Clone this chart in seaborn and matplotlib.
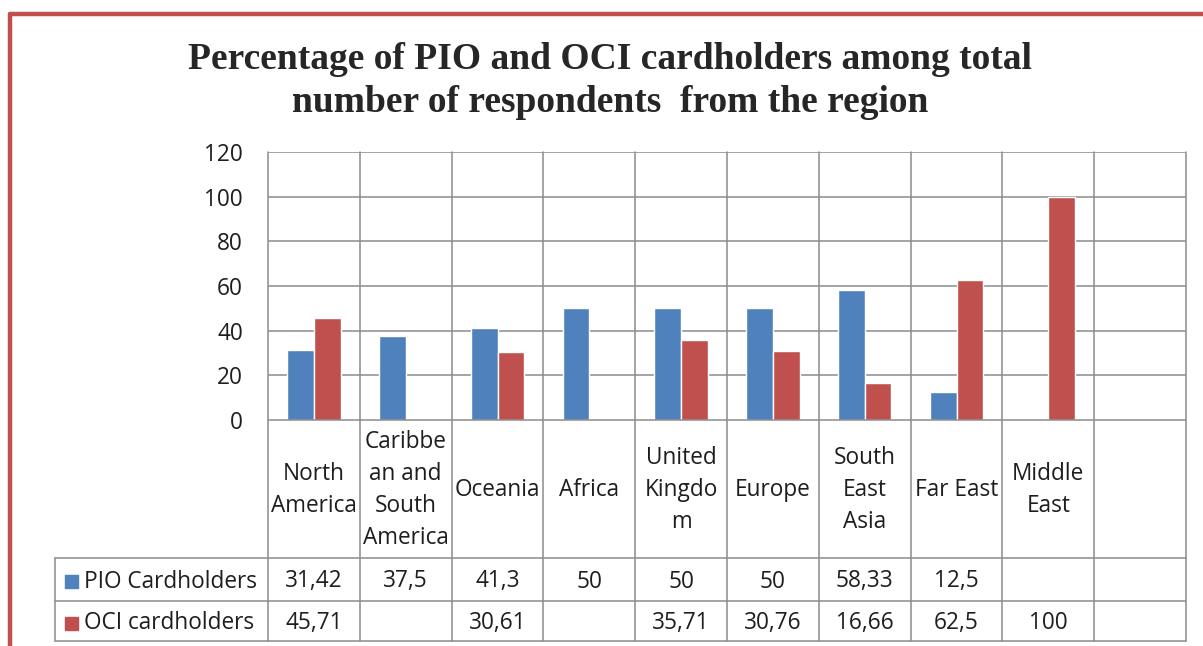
import numpy as np
import pandas as pd
import matplotlib
matplotlib.use('Agg')
import matplotlib.pyplot as plt
import matplotlib.transforms as mtransforms
from matplotlib.lines import Line2D
from matplotlib.patches import Rectangle
import seaborn as sns

sns.set_style('white')
plt.rcParams['font.family'] = ['Open Sans', 'DejaVu Sans']

#data
regions = ['North\nAmerica', 'Caribbe\nan and\nSouth\nAmerica', 'Oceania', 'Africa',
           'United\nKingdo\nm', 'Europe', 'South\nEast\nAsia', 'Far East', 'Middle\nEast']
pio = [31.42, 37.5, 41.3, 50, 50, 50, 58.33, 12.5, np.nan]
oci = [45.71, np.nan, 30.61, np.nan, 35.71, 30.76, 16.66, 62.5, 100]
series = ['PIO Cardholders', 'OCI cardholders']
colors = ['#4F81BD', '#C0504D']
yticks = [0, 20, 40, 60, 80, 100, 120]
title = 'Percentage of PIO and OCI cardholders among total\nnumber of respondents  from the region'
n_cols = 10  # last column of the excel table is empty

#long form for seaborn
df = pd.DataFrame({'region': regions * 2,
                   'series': [series[0]] * len(regions) + [series[1]] * len(regions),
                   'value': pio + oci})
df_plot = df.dropna()

W, H = 1203, 646
fig = plt.figure(figsize=(W / 100, H / 100), dpi=100)

#pixel layout of the excel chart
left, right, top, zero = 268, 1186, 152, 420
row_lines = [558, 601, 641]
legend_left = 55
grid_col = '#8C8C8C'
txt_col = '#1E1E1E'
fs = 16.3

ax = fig.add_axes([left / W, 1 - zero / H, (right - left) / W, (zero - top) / H])
sns.barplot(data=df_plot, x='region', y='value', hue='series', order=regions,
            hue_order=series, palette=colors, width=0.58, saturation=1,
            ax=ax, legend=False)
ax.set_xlim(-0.5, n_cols - 0.5)
ax.set_ylim(0, 120)
ax.set_yticks(yticks)
ax.set_yticklabels([str(t) for t in yticks], fontsize=fs, color=txt_col)
ax.tick_params(axis='y', length=0, pad=18)
ax.set_xticks([])
ax.set_xlabel('')
ax.set_ylabel('')
for t in yticks[1:]:
    ax.axhline(t, color=grid_col, lw=1.1, zorder=0)
for s in ax.spines.values():
    s.set_visible(False)
ax.axhline(0, color=grid_col, lw=1.1, zorder=3, clip_on=False)

#vertical lines of the data table, running from the plot top to the table bottom
blend = mtransforms.blended_transform_factory(ax.transData, fig.transFigure)
for i in range(n_cols + 1):
    fig.add_artist(Line2D([i - 0.5, i - 0.5], [1 - top / H, 1 - row_lines[-1] / H],
                          transform=blend, color=grid_col, lw=1.1))
#horizontal table lines
for y in row_lines:
    fig.add_artist(Line2D([legend_left / W, right / W], [1 - y / H, 1 - y / H],
                          transform=fig.transFigure, color=grid_col, lw=1.1))
fig.add_artist(Line2D([legend_left / W, legend_left / W],
                      [1 - row_lines[0] / H, 1 - row_lines[-1] / H],
                      transform=fig.transFigure, color=grid_col, lw=1.1))

#category labels in the header row
for i, r in enumerate(regions):
    fig.text(i, 1 - ((zero + row_lines[0]) / 2 + 1) / H, r, transform=blend,
             ha='center', va='center', fontsize=fs, color=txt_col, linespacing=1.45)

#value rows with legend keys
for k, vals in enumerate([pio, oci]):
    yc = 1 - ((row_lines[k] + row_lines[k + 1]) / 2 + 2) / H
    fig.add_artist(Rectangle((65 / W, yc - 6.5 / H), 13 / W, 13 / H,
                             transform=fig.transFigure, color=colors[k]))
    fig.text(84 / W, yc, series[k], ha='left', va='center', fontsize=fs, color=txt_col)
    for i, v in enumerate(vals):
        if np.isnan(v):
            continue
        fig.text(i, yc, f'{v:g}'.replace('.', ','), transform=blend,
                 ha='center', va='center', fontsize=fs, color=txt_col)

#title
fig.text(610 / W, 1 - 81 / H, title, ha='center', va='center', fontsize=27,
         fontweight='bold', family='Liberation Serif', linespacing=1.27)

#red chart border (only the top and left edges are in view)
border = '#C0504D'
fig.add_artist(Line2D([10 / W, 10 / W], [1 - 14 / H, 0], transform=fig.transFigure,
                      color=border, lw=3.2))
fig.add_artist(Line2D([10 / W, 1], [1 - 14 / H, 1 - 14 / H], transform=fig.transFigure,
                      color=border, lw=3.2))

plt.savefig('out.png', dpi=100)
